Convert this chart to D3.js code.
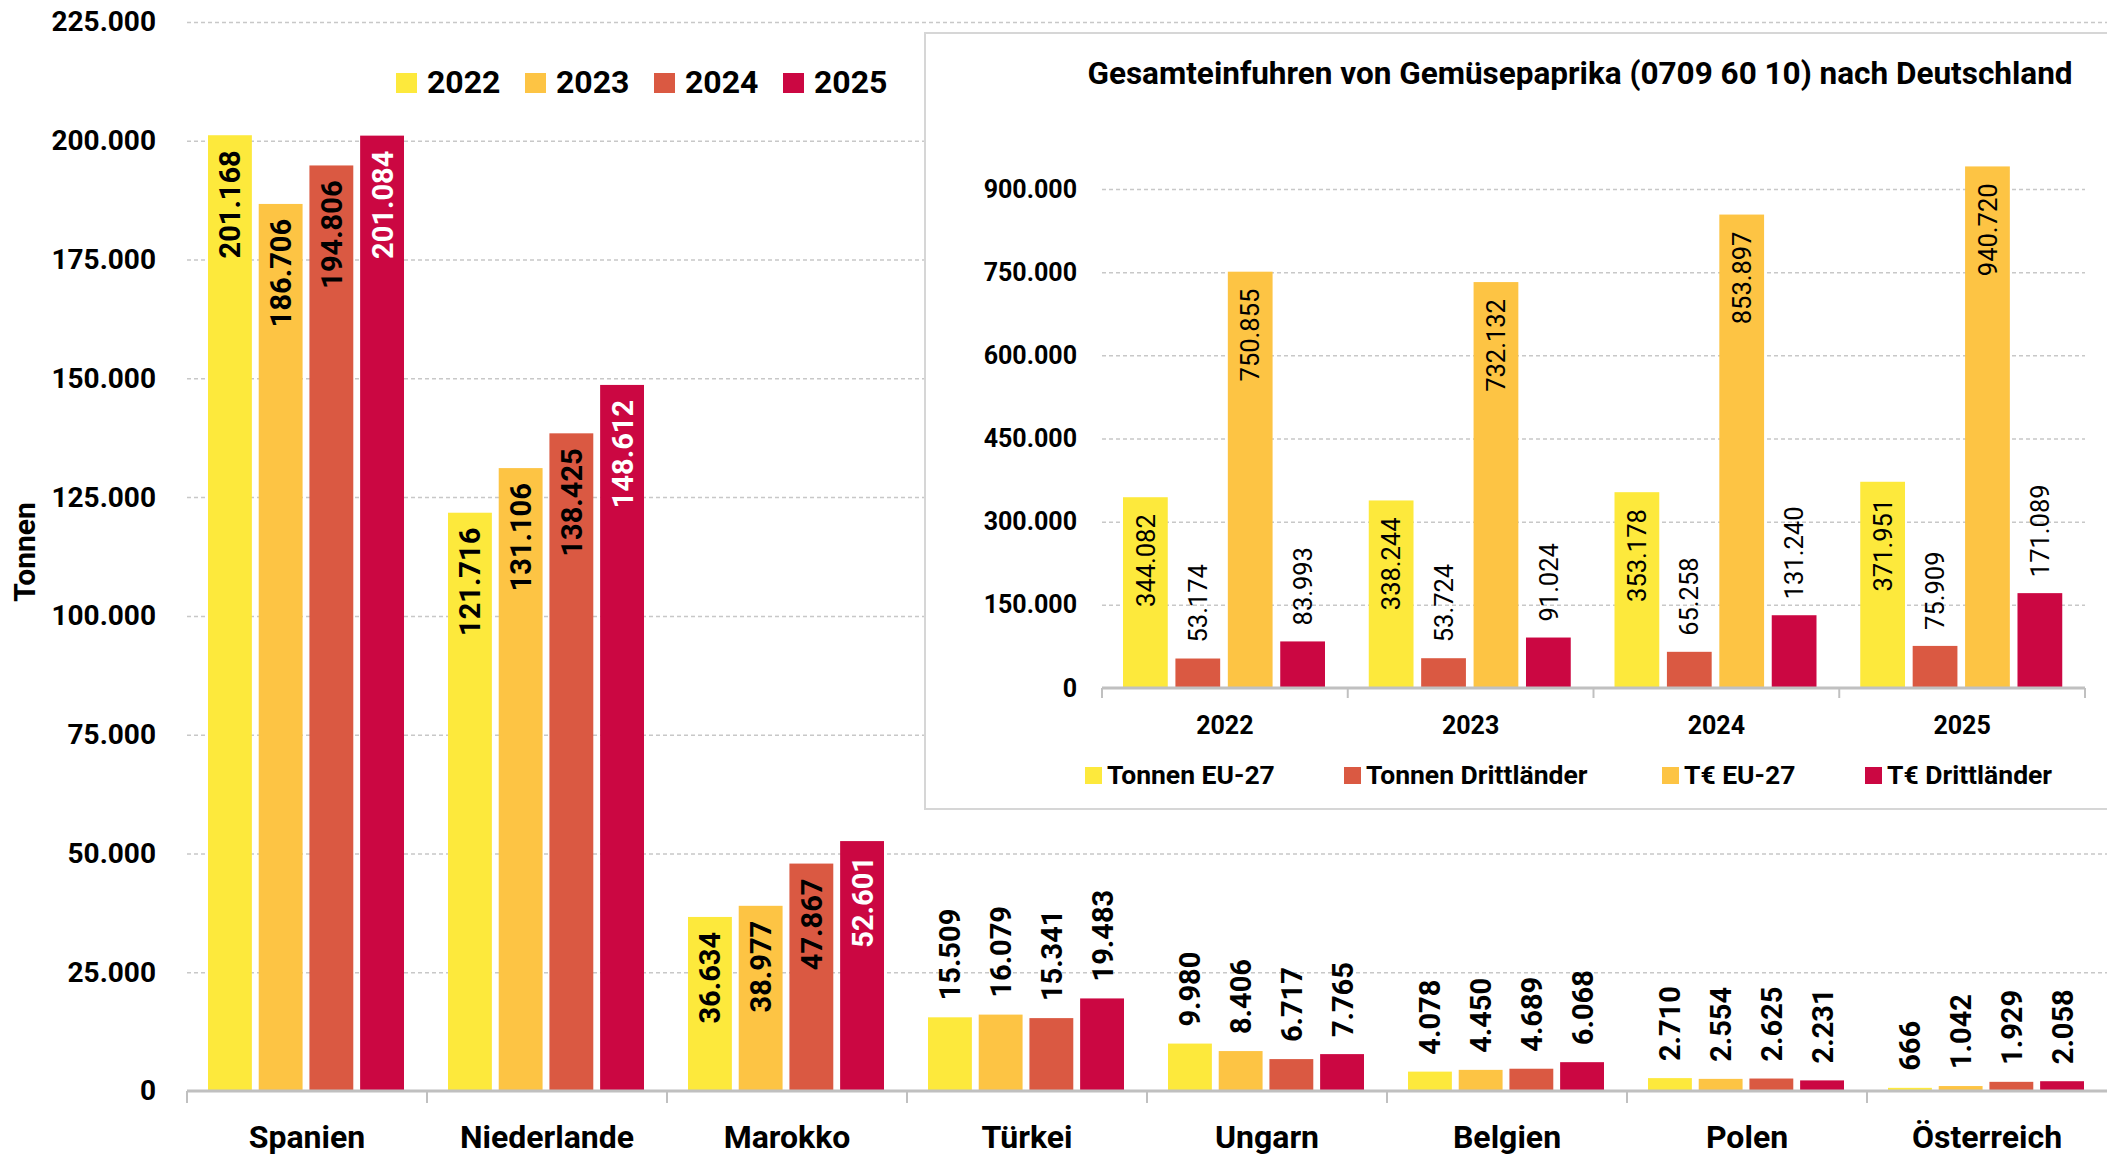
<!DOCTYPE html>
<html>
<head>
<meta charset="utf-8">
<script src="https://cdn.jsdelivr.net/npm/d3@7"></script>
<style>
  body { margin:0; background:#fff; }
  svg { display:block; }
</style>
</head>
<body>
<script>
// main chart: imports per country, tonnes
var countries = ['Spanien', 'Niederlande', 'Marokko', 'Türkei', 'Ungarn', 'Belgien', 'Polen', 'Österreich'];
var years = ['2022', '2023', '2024', '2025'];
var values2022 = [201168, 121716, 36634, 15509, 9980, 4078, 2710, 666];
var values2023 = [186706, 131106, 38977, 16079, 8406, 4450, 2554, 1042];
var values2024 = [194806, 138425, 47867, 15341, 6717, 4689, 2625, 1929];
var values2025 = [201084, 148612, 52601, 19483, 7765, 6068, 2231, 2058];
var yTicks = [0, 25000, 50000, 75000, 100000, 125000, 150000, 175000, 200000, 225000];

// inset: total imports
var insetYears = ['2022', '2023', '2024', '2025'];
var insetSeries = ['Tonnen EU-27', 'Tonnen Drittländer', 'T€ EU-27', 'T€ Drittländer'];
var tonnenEU = [344082, 338244, 353178, 371951];
var tonnenDritt = [53174, 53724, 65258, 75909];
var teurEU = [750855, 732132, 853897, 940720];
var teurDritt = [83993, 91024, 131240, 171089];
var insetTicks = [0, 150000, 300000, 450000, 600000, 750000, 900000];

var yearColors = ['#fde93c', '#fdc444', '#da5942', '#cb0742'];
var insetColors = ['#fde93c', '#da5942', '#fdc444', '#cb0742'];
var FONT = 'Roboto, "Noto Sans", sans-serif';

var fmt = d3.formatLocale({decimal: ',', thousands: '.', grouping: [3], currency: ['', '']}).format(',d');

var screen = {width: 2107, height: 1156};
var svg = d3.select('body').append('svg')
            .attr('width', screen.width)
            .attr('height', screen.height)
            .attr('font-family', FONT);

// ---------- main chart ----------
var main = {left: 187, right: 2107, top: 22, bottom: 1091};
var mainSeries = [values2022, values2023, values2024, values2025];

var x0 = d3.scaleBand()
           .domain(countries)
           .range([main.left, main.right])
           .padding(0);
var x1 = d3.scaleBand()
           .domain(years)
           .range([21, 217])
           .paddingInner(0.135)
           .paddingOuter(0);
var y = d3.scaleLinear()
          .domain([0, 225000])
          .range([main.bottom, main.top]);

function styleGrid(g){
  g.select('.domain').remove();
  g.selectAll('line')
   .attr('stroke', '#c8c8c8')
   .attr('stroke-width', 1.5)
   .attr('stroke-dasharray', '4,3');
}

svg.append('g')
   .attr('transform', 'translate(' + main.left + ',0)')
   .call(d3.axisLeft(y).tickValues(yTicks.slice(1)).tickSize(-(main.right - main.left)).tickFormat(''))
   .call(styleGrid);

svg.append('g')
   .attr('transform', 'translate(' + main.left + ',0)')
   .call(d3.axisLeft(y).tickValues(yTicks).tickSize(0).tickPadding(31).tickFormat(fmt))
   .call(function(g){ g.select('.domain').remove(); })
   .attr('font-family', FONT)
   .attr('font-size', 28)
   .attr('font-weight', 'bold')
   .selectAll('text').attr('fill', '#000');

var groups = svg.append('g')
                .selectAll('g')
                .data(countries)
                .enter()
                .append('g')
                .attr('transform', function(d){ return 'translate(' + x0(d) + ',0)'; });

var cells = groups.selectAll('g')
                  .data(function(d, i){
                    return years.map(function(yr, j){ return {year: yr, s: j, value: mainSeries[j][i]}; });
                  })
                  .enter()
                  .append('g');

cells.append('rect')
     .attr('x', function(d){ return x1(d.year); })
     .attr('y', function(d){ return y(d.value); })
     .attr('width', x1.bandwidth())
     .attr('height', function(d){ return y(0) - y(d.value); })
     .attr('fill', function(d){ return yearColors[d.s]; });

cells.append('text')
     .attr('transform', function(d){
       var inside = d.value > 30000;
       var ty = inside ? y(d.value) + 15 : y(d.value) - 17;
       return 'translate(' + (x1(d.year) + x1.bandwidth() / 2) + ',' + ty + ') rotate(-90)';
     })
     .attr('text-anchor', function(d){ return d.value > 30000 ? 'end' : 'start'; })
     .attr('dy', '0.36em')
     .attr('font-size', 29)
     .attr('font-weight', 'bold')
     .attr('fill', function(d){ return (d.value > 30000 && d.s == 3) ? '#fff' : '#000'; })
     .text(function(d){ return fmt(d.value); });

// x axis
svg.append('line')
   .attr('x1', main.left).attr('x2', main.right)
   .attr('y1', y(0)).attr('y2', y(0))
   .attr('stroke', '#c0c0c0')
   .attr('stroke-width', 3);
svg.append('g')
   .selectAll('line')
   .data(countries)
   .enter()
   .append('line')
   .attr('x1', function(d){ return x0(d); })
   .attr('x2', function(d){ return x0(d); })
   .attr('y1', y(0))
   .attr('y2', y(0) + 12)
   .attr('stroke', '#c0c0c0')
   .attr('stroke-width', 2);

svg.append('g')
   .attr('transform', 'translate(0,' + y(0) + ')')
   .call(d3.axisBottom(x0).tickSize(0).tickPadding(34))
   .call(function(g){ g.select('.domain').remove(); })
   .attr('font-family', FONT)
   .attr('font-size', 32)
   .attr('font-weight', 'bold')
   .selectAll('text').attr('fill', '#000');

svg.append('text')
   .attr('transform', 'translate(24,552) rotate(-90)')
   .attr('text-anchor', 'middle')
   .attr('dy', '0.36em')
   .attr('font-size', 30)
   .attr('font-weight', 'bold')
   .text('Tonnen');

// legend
var legend = svg.append('g')
                .selectAll('g')
                .data(years)
                .enter()
                .append('g')
                .attr('transform', function(d, i){ return 'translate(' + (396 + i * 129) + ',73)'; });
legend.append('rect')
      .attr('width', 21).attr('height', 20)
      .attr('fill', function(d, i){ return yearColors[i]; });
legend.append('text')
      .attr('x', 31).attr('y', 20)
      .attr('font-size', 32)
      .attr('font-weight', 'bold')
      .text(function(d){ return d; });

// ---------- inset chart ----------
var inset = {left: 1102, right: 2085, top: 189, bottom: 688};
var insetValues = [tonnenEU, tonnenDritt, teurEU, teurDritt];
var insetInside = [true, false, true, false];

svg.append('rect')
   .attr('x', 925).attr('y', 33)
   .attr('width', 1300).attr('height', 776)
   .attr('fill', '#fff')
   .attr('stroke', '#d6d6d6')
   .attr('stroke-width', 2);

svg.append('text')
   .attr('x', 1580).attr('y', 84)
   .attr('text-anchor', 'middle')
   .attr('font-size', 31.5)
   .attr('font-weight', 'bold')
   .text('Gesamteinfuhren von Gemüsepaprika (0709 60 10) nach Deutschland');

var ix0 = d3.scaleBand()
            .domain(insetYears)
            .range([inset.left, inset.right])
            .padding(0);
var ix1 = d3.scaleBand()
            .domain(insetSeries)
            .range([21, 223])
            .paddingInner(0.146)
            .paddingOuter(0);
var iy = d3.scaleLinear()
           .domain([0, 900000])
           .range([inset.bottom, inset.top]);

svg.append('g')
   .attr('transform', 'translate(' + inset.left + ',0)')
   .call(d3.axisLeft(iy).tickValues(insetTicks.slice(1)).tickSize(-(inset.right - inset.left)).tickFormat(''))
   .call(styleGrid);

svg.append('g')
   .attr('transform', 'translate(' + inset.left + ',0)')
   .call(d3.axisLeft(iy).tickValues(insetTicks).tickSize(0).tickPadding(25).tickFormat(fmt))
   .call(function(g){ g.select('.domain').remove(); })
   .attr('font-family', FONT)
   .attr('font-size', 25)
   .attr('font-weight', 'bold')
   .selectAll('text').attr('fill', '#000');

var igroups = svg.append('g')
                 .selectAll('g')
                 .data(insetYears)
                 .enter()
                 .append('g')
                 .attr('transform', function(d){ return 'translate(' + ix0(d) + ',0)'; });

var icells = igroups.selectAll('g')
                    .data(function(d, i){
                      return insetSeries.map(function(s, j){ return {series: s, s: j, value: insetValues[j][i]}; });
                    })
                    .enter()
                    .append('g');

icells.append('rect')
      .attr('x', function(d){ return ix1(d.series); })
      .attr('y', function(d){ return iy(d.value); })
      .attr('width', ix1.bandwidth())
      .attr('height', function(d){ return iy(0) - iy(d.value); })
      .attr('fill', function(d){ return insetColors[d.s]; });

icells.append('text')
      .attr('transform', function(d){
        var ty = insetInside[d.s] ? iy(d.value) + 17 : iy(d.value) - 16;
        return 'translate(' + (ix1(d.series) + ix1.bandwidth() / 2) + ',' + ty + ') rotate(-90)';
      })
      .attr('text-anchor', function(d){ return insetInside[d.s] ? 'end' : 'start'; })
      .attr('dy', '0.36em')
      .attr('font-size', 25.5)
      .attr('fill', '#000')
      .text(function(d){ return fmt(d.value); });

svg.append('line')
   .attr('x1', inset.left).attr('x2', inset.right)
   .attr('y1', iy(0)).attr('y2', iy(0))
   .attr('stroke', '#c0c0c0')
   .attr('stroke-width', 3);
svg.append('g')
   .selectAll('line')
   .data(insetYears.concat(['end']))
   .enter()
   .append('line')
   .attr('x1', function(d){ return d == 'end' ? inset.right : ix0(d); })
   .attr('x2', function(d){ return d == 'end' ? inset.right : ix0(d); })
   .attr('y1', iy(0))
   .attr('y2', iy(0) + 10)
   .attr('stroke', '#c0c0c0')
   .attr('stroke-width', 2);

svg.append('g')
   .attr('transform', 'translate(0,' + iy(0) + ')')
   .call(d3.axisBottom(ix0).tickSize(0).tickPadding(28))
   .call(function(g){ g.select('.domain').remove(); })
   .attr('font-family', FONT)
   .attr('font-size', 25)
   .attr('font-weight', 'bold')
   .selectAll('text').attr('fill', '#000');

var ilegendX = [1085, 1344, 1662, 1865];
var ilegend = svg.append('g')
                 .selectAll('g')
                 .data(insetSeries)
                 .enter()
                 .append('g')
                 .attr('transform', function(d, i){ return 'translate(' + ilegendX[i] + ',767)'; });
ilegend.append('rect')
       .attr('width', 17).attr('height', 17)
       .attr('fill', function(d, i){ return insetColors[i]; });
ilegend.append('text')
       .attr('x', 22).attr('y', 17)
       .attr('font-size', 26.5)
       .attr('font-weight', 'bold')
       .text(function(d){ return d; });
</script>
</body>
</html>
